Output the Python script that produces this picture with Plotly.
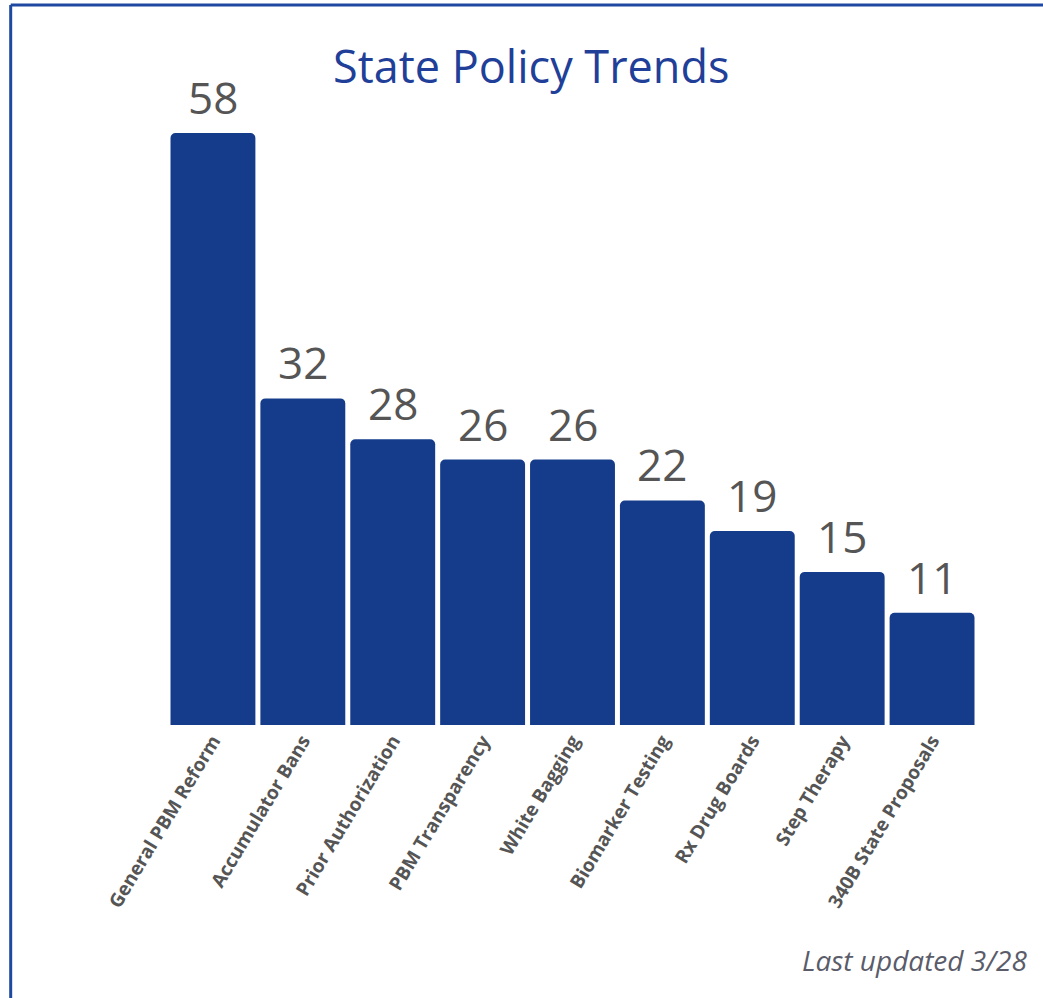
import plotly.graph_objects as go

categories = ["General PBM Reform", "Accumulator Bans", "Prior Authorization",
              "PBM Transparency", "White Bagging", "Biomarker Testing",
              "Rx Drug Boards", "Step Therapy", "340B State Proposals"]
values = [58, 32, 28, 26, 26, 22, 19, 15, 11]
title_text = "State Policy Trends"
footnote_text = "Last updated 3/28"

W, H = 1043, 998
ML, MR, MT, MB = 167.5, 65.5, 50, 273
PW = W - ML - MR
PH = H - MT - MB

BAR = "#153C8B"
FRAME = "#1F48A0"
GRAY = "#555555"

fig = go.Figure()
fig.add_trace(go.Bar(
    x=categories, y=values, marker=dict(color=BAR, line=dict(width=0)),
    hoverinfo="skip",
))

for c, v in zip(categories, values):
    fig.add_annotation(x=c, y=v, text=str(v), showarrow=False, yanchor="bottom",
                       yshift=4, font=dict(family="Open Sans", size=44, color=GRAY))

def px2paper_x(px):
    return (px - ML) / PW

def px2paper_y(py):
    return (H - MB - py) / PH

# frame (top and left lines)
fig.add_shape(type="line", xref="paper", yref="paper",
              x0=px2paper_x(10), x1=px2paper_x(W + 20), y0=px2paper_y(5), y1=px2paper_y(5),
              line=dict(color=FRAME, width=3))
fig.add_shape(type="line", xref="paper", yref="paper",
              x0=px2paper_x(10), x1=px2paper_x(10), y0=px2paper_y(5), y1=px2paper_y(H + 20),
              line=dict(color=FRAME, width=3))

fig.add_annotation(xref="paper", yref="paper", x=px2paper_x(531), y=px2paper_y(65),
                   text=title_text, showarrow=False, xanchor="center", yanchor="middle",
                   font=dict(family="Open Sans", size=45, color="#1F3F99"))
fig.add_annotation(xref="paper", yref="paper", x=px2paper_x(1030), y=px2paper_y(960),
                   text="<i>" + footnote_text + "</i>", showarrow=False,
                   xanchor="right", yanchor="middle",
                   font=dict(family="Open Sans", size=28, color="#5A5C6A"))

fig.update_layout(
    width=W, height=H,
    margin=dict(l=ML, r=MR, t=MT, b=MB, pad=0),
    paper_bgcolor="white", plot_bgcolor="white",
    bargap=5 / 90, barcornerradius=5,
    showlegend=False,
    xaxis=dict(range=[-0.5, len(categories) - 0.5], tickangle=-59,
               tickfont=dict(family="Open Sans", size=19, color=GRAY, weight="bold"),
               showgrid=False, zeroline=False, showline=False, ticks="",
               ticklen=0),
    yaxis=dict(range=[0, PH / 10.207], visible=False, showgrid=False),
)

fig.write_html("out.html", config={"displayModeBar": False},
               post_script="document.body.style.margin='0';document.body.style.overflow='hidden';")
